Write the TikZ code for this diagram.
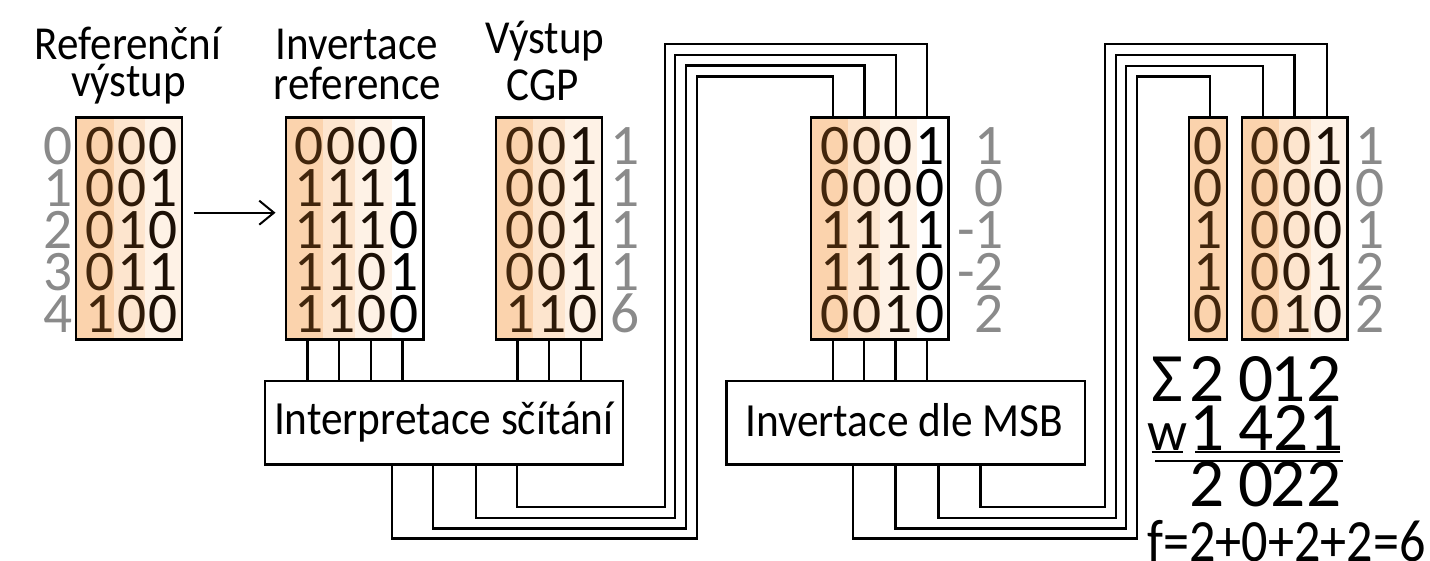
\documentclass[tikz,border=0pt]{standalone}
\usepackage{fontspec}
\setmainfont{Carlito}
\newfontfamily\narrowfont[FakeStretch=0.91]{Carlito}
\newfontfamily\slimfont[FakeStretch=0.87]{Carlito}
\usetikzlibrary{arrows.meta,calc,fit}

% column shades of the bit tables and the matching digit inks
\definecolor{c1}{HTML}{FBD3AD}
\definecolor{c2}{HTML}{FDE5CE}
\definecolor{c3}{HTML}{FEF2E6}
\definecolor{dc1}{HTML}{42260C}
\definecolor{dc2}{HTML}{2E1A08}
\definecolor{dc3}{HTML}{1C1006}
\definecolor{dc4}{HTML}{000000}
\definecolor{sidegray}{HTML}{8A8A8A}

% one row of a bit table: name prefix, centre of first column, baseline, digits
\newcommand\bitrow[4]{%
  \foreach \dd [count=\k] in {#4}{%
    \node[digit, text=dc\k] (#1-\k) at ({#2+31.6*(\k-1)},#3) {\dd};}}

\begin{document}
\begin{tikzpicture}[x=0.75pt,y=-0.75pt,
  wire/.style={line width=1.8pt},
  frame/.style={draw, line width=1.8pt, inner sep=0pt},
  digit/.style={anchor=base, inner sep=0pt, font=\fontsize{43}{48}\selectfont},
  side/.style={digit, text=sidegray},
  title/.style={anchor=base, inner sep=0pt, font=\narrowfont\fontsize{35.5}{40}\selectfont},
  blocklabel/.style={anchor=base, inner sep=0pt, font=\narrowfont\fontsize{35.7}{40}\selectfont},
  sumtxt/.style={anchor=base, inner sep=0pt, font=\fontsize{52}{58}\selectfont},
  rulestyle/.style={line width=1.5pt},
  arr/.style={line width=1.5pt, -{Straight Barb[length=11pt,width=18pt]}}]
\useasboundingbox (0,0) rectangle (1430,560);

% ---- headings
\node[title] (t1a) at (128,59.5) {Referenční};
\node[title] (t1b) at (128.5,96) {výstup};
\node[title] (t2a) at (356.5,60) {Invertace};
\node[title] (t2b) at (357.5,99.5) {reference};
\node[title] (t3a) at (545,53.5) {Výstup};
\node[title] (t3b) at (542.5,100) {CGP};

% ---- column shading
\fill[c1] (76,117.3) rectangle (113.5,339.3);
\fill[c2] (113.5,117.3) rectangle (145,339.3);
\fill[c3] (145,117.3) rectangle (181.7,339.3);

\fill[c1] (286,117.3) rectangle (323.3,339.3);
\fill[c2] (323.3,117.3) rectangle (355,339.3);
\fill[c3] (355,117.3) rectangle (391.7,339.3);

\fill[c1] (496,117.3) rectangle (533.3,339.3);
\fill[c2] (533.3,117.3) rectangle (565,339.3);
\fill[c3] (565,117.3) rectangle (601.7,339.3);

\fill[c1] (811,117.3) rectangle (848.3,339.3);
\fill[c2] (848.3,117.3) rectangle (880,339.3);
\fill[c3] (880,117.3) rectangle (916.7,339.3);

\fill[c1] (1189,117.3) rectangle (1226.7,339.3);

\fill[c1] (1241.7,117.3) rectangle (1279,339.3);
\fill[c2] (1279,117.3) rectangle (1310.7,339.3);
\fill[c3] (1310.7,117.3) rectangle (1347.3,339.3);

% ---- table frames
\node[frame, fit={(76,117.3)(181.7,339.3)}] (b1) {};
\node[frame, fit={(286,117.3)(423.3,339.3)}] (b2) {};
\node[frame, fit={(496,117.3)(601.7,339.3)}] (b3) {};
\node[frame, fit={(811,117.3)(948.3,339.3)}] (b4) {};
\node[frame, fit={(1189,117.3)(1226.7,339.3)}] (b5) {};
\node[frame, fit={(1241.7,117.3)(1347.3,339.3)}] (b6) {};

% ---- table contents
\bitrow{ra1}{100.2}{164}{0,0,0}
\bitrow{ra2}{100.2}{206}{0,0,1}
\bitrow{ra3}{100.2}{248}{0,1,0}
\bitrow{ra4}{100.2}{290}{0,1,1}
\bitrow{ra5}{100.2}{332}{1,0,0}

\bitrow{rb1}{309}{164}{0,0,0,0}
\bitrow{rb2}{309}{206}{1,1,1,1}
\bitrow{rb3}{309}{248}{1,1,1,0}
\bitrow{rb4}{309}{290}{1,1,0,1}
\bitrow{rb5}{309}{332}{1,1,0,0}

\bitrow{rc1}{520}{164}{0,0,1}
\bitrow{rc2}{520}{206}{0,0,1}
\bitrow{rc3}{520}{248}{0,0,1}
\bitrow{rc4}{520}{290}{0,0,1}
\bitrow{rc5}{520}{332}{1,1,0}

\bitrow{rd1}{835}{164}{0,0,0,1}
\bitrow{rd2}{835}{206}{0,0,0,0}
\bitrow{rd3}{835}{248}{1,1,1,1}
\bitrow{rd4}{835}{290}{1,1,1,0}
\bitrow{rd5}{835}{332}{0,0,1,0}

\bitrow{re1}{1208.3}{164}{0}
\bitrow{re2}{1208.3}{206}{0}
\bitrow{re3}{1208.3}{248}{1}
\bitrow{re4}{1208.3}{290}{1}
\bitrow{re5}{1208.3}{332}{0}

\bitrow{rf1}{1265.2}{164}{0,0,1}
\bitrow{rf2}{1265.2}{206}{0,0,0}
\bitrow{rf3}{1265.2}{248}{0,0,0}
\bitrow{rf4}{1265.2}{290}{0,0,1}
\bitrow{rf5}{1265.2}{332}{0,1,0}

% ---- side values
\foreach \v/\y [count=\k] in {0/164,1/206,2/248,3/290,4/332}
  \node[side] (ia-\k) at (58.3,\y) {\v};
\foreach \v/\y [count=\k] in {1/164,1/206,1/248,1/290,6/332}
  \node[side] (ic-\k) at (625,\y) {\v};
\foreach \v/\y [count=\k] in {1/164,0/206,-1/248,-2/290,2/332}
  \node[side, anchor=base east] (id-\k) at (1004,\y) {\v};
\foreach \v/\y [count=\k] in {1/164,0/206,1/248,2/290,2/332}
  \node[side] (if-\k) at (1370,\y) {\v};

% ---- processing blocks
\node[frame, fit={(265,380.7)(622.7,464.3)}] (add) {};
\node[blocklabel] (addlabel) at (443.8,434.3) {Interpretace sčítání};
\node[frame, fit={(726.5,380.7)(1085,464.3)}] (msb) {};
\node[blocklabel] (msblabel) at (904,436.7) {Invertace dle MSB};

% ---- arrow between the first two tables
\coordinate (ay) at (0,212.7);
\draw[arr] ($(b1.east |- ay)+(11,0)$) -- ($(b2.west |- ay)+(-9.3,0)$);

% ---- inputs of the adder block
\foreach \xx in {307.3,339,370.7,402.3}
  \draw[wire] (b2.south -| \xx,0) -- (add.north -| \xx,0);
\foreach \xx in {517.3,549,580.7}
  \draw[wire] (b3.south -| \xx,0) -- (add.north -| \xx,0);

% ---- adder outputs looping over to the fourth table
\foreach \xo/\yb/\xv/\yt/\xi in {391.7/538.3/696.7/76.7/832.7,
    432.7/528.3/686/65.7/864.3, 475.7/517.7/675/55/895.7,
    516.7/506.7/665/44.3/926.7}
  \draw[wire] (add.south -| \xo,0) |- (\xv,\yb) |- (\xi,\yt) -- (b4.north -| \xi,0);

% ---- inputs of the MSB block
\foreach \xx in {832.7,864,895.6,927}
  \draw[wire] (b4.south -| \xx,0) -- (msb.north -| \xx,0);

% ---- MSB outputs looping over to the last tables
\draw[wire] (msb.south -| 852.7,0) |- (1136.7,538.3) |- (1210,76.7) -- (b5.north -| 1210,0);
\foreach \xo/\yb/\xv/\yt/\xi in {895.5/528.3/1126/66/1262.7,
    938.4/517.7/1115.7/55/1294.3, 980.3/506.7/1105/44.3/1326.7}
  \draw[wire] (msb.south -| \xo,0) |- (\xv,\yb) |- (\xi,\yt) -- (b6.north -| \xi,0);

% ---- weighted sum
\foreach \xx/\ch [count=\k] in {1167.5/Σ,1207.5/2,1256.5/0,1288/1,1324/2}
  \node[sumtxt] (sa-\k) at (\xx,401) {\ch};
\node[sumtxt, font=\fontsize{42}{46}\selectfont] (sw) at (1167,450) {w};
\foreach \xx/\ch [count=\k] in {1207.5/1,1256.5/4,1291/2,1326/1}
  \node[sumtxt] (sb-\k) at (\xx,450) {\ch};
\draw[rulestyle] (1151.7,452) -- (1183,452);
\draw[rulestyle] (1195,452) -- (1340,452);
\draw[rulestyle] (1155,460.7) -- (1343,460.7);
\foreach \xx/\ch [count=\k] in {1207.5/2,1256.5/0,1288/2,1324/2}
  \node[sumtxt] (sc-\k) at (\xx,506) {\ch};
\node[anchor=base west, inner sep=0pt, font=\slimfont\fontsize{45}{50}\selectfont] (fval) at (1147,561) {f=2+0+2+2=6};
\end{tikzpicture}
\end{document}
